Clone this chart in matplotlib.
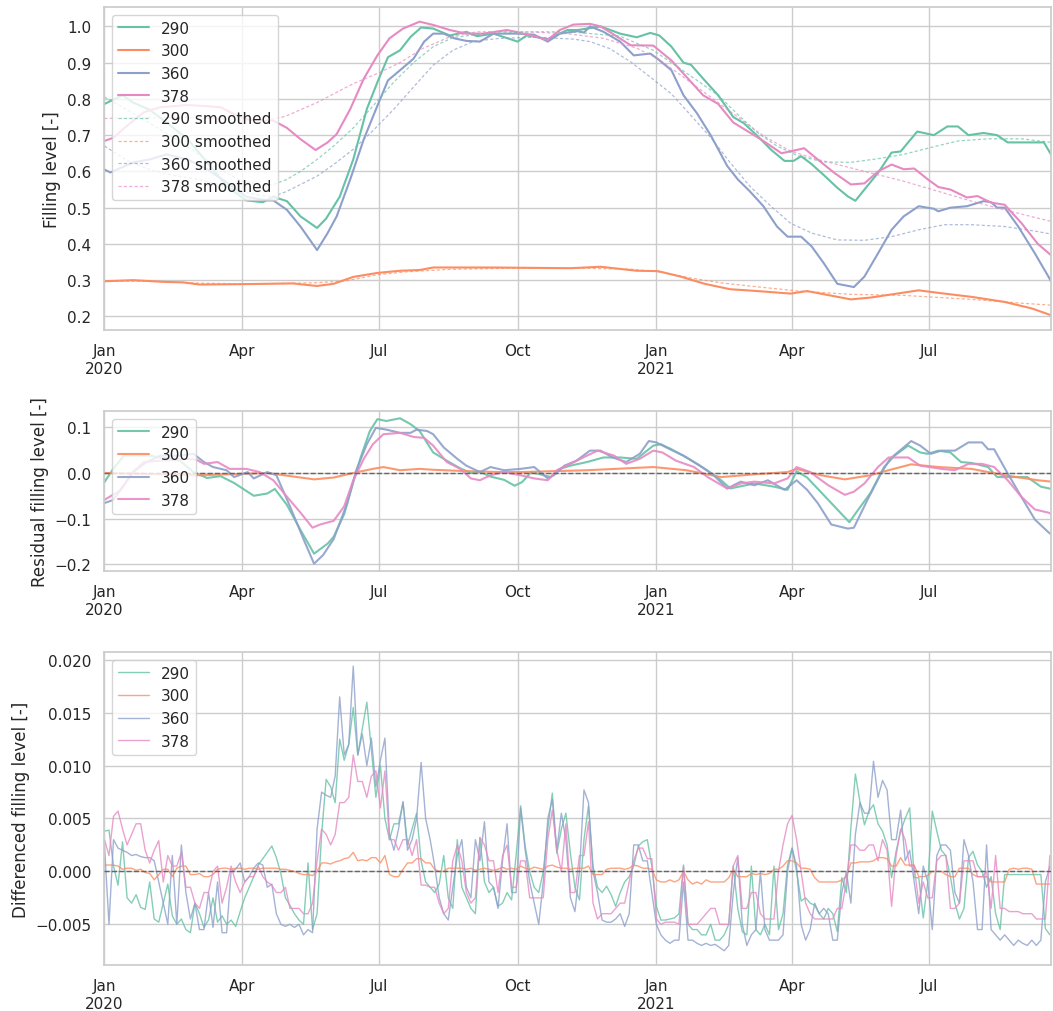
import matplotlib.pyplot as plt
import numpy as np
import pandas as pd
import seaborn as sns

sns.set_theme(style='whitegrid', palette='Set2')
plt.rcParams['font.family'] = ['DejaVu Sans']

START = pd.Timestamp('2020-01-01')
END = pd.Timestamp('2021-09-20')
SENSORS = ['290', '300', '360', '378']
COLORS = sns.color_palette('Set2', 4)

# ---- filling level, key points (days since 2020-01-01)
lvl_290_day = [0, 12, 19, 30, 41, 55, 68, 81, 94, 105, 112, 121, 130, 141, 147, 156, 165, 174, 181, 188,
               196, 203, 210, 218, 229, 240, 247, 258, 274, 280, 294, 307, 314, 329, 342, 353, 362, 368,
               376, 384, 389, 397, 407, 417, 424, 433, 442, 451, 457, 462, 469, 477, 486, 493, 498, 504,
               513, 522, 528, 539, 550, 559, 566, 573, 583, 592, 599, 623, 628]
lvl_290 = [0.786, 0.81, 0.79, 0.77, 0.735, 0.69, 0.625, 0.56, 0.52, 0.515, 0.53, 0.518, 0.476, 0.444,
           0.47, 0.53, 0.633, 0.772, 0.846, 0.915, 0.934, 0.971, 0.997, 0.994, 0.975, 0.985, 0.973, 0.98,
           0.958, 0.975, 0.965, 0.99, 0.99, 1.0, 0.98, 0.97, 0.982, 0.975, 0.944, 0.9, 0.894, 0.856, 0.81,
           0.75, 0.733, 0.698, 0.66, 0.629, 0.629, 0.642, 0.62, 0.59, 0.555, 0.531, 0.519, 0.55, 0.596,
           0.652, 0.655, 0.71, 0.70, 0.724, 0.724, 0.70, 0.706, 0.70, 0.68, 0.68, 0.645]

lvl_300_day = [0, 19, 41, 52, 63, 90, 125, 141, 152, 165, 181, 196, 209, 218, 256, 309, 329, 353, 367,
               382, 398, 415, 433, 455, 466, 495, 508, 540, 553, 575, 597, 615, 628]
lvl_300 = [0.297, 0.30, 0.295, 0.294, 0.288, 0.289, 0.291, 0.284, 0.29, 0.309, 0.32, 0.326, 0.328, 0.335,
           0.335, 0.333, 0.337, 0.326, 0.325, 0.31, 0.29, 0.275, 0.27, 0.263, 0.27, 0.247, 0.252, 0.272,
           0.265, 0.254, 0.24, 0.222, 0.203]

lvl_360_day = [0, 4, 19, 30, 41, 55, 68, 81, 94, 108, 112, 121, 130, 141, 148, 154, 163, 172, 181, 188,
               196, 205, 212, 218, 225, 232, 240, 249, 258, 274, 285, 294, 302, 314, 318, 322, 331, 342,
               351, 362, 367, 376, 384, 393, 402, 413, 420, 428, 437, 446, 453, 462, 469, 477, 486, 497,
               504, 513, 522, 530, 540, 550, 553, 561, 572, 583, 588, 592, 597, 606, 617, 626, 628]
lvl_360 = [0.605, 0.597, 0.625, 0.633, 0.647, 0.633, 0.606, 0.57, 0.53, 0.52, 0.52, 0.494, 0.448, 0.383,
           0.43, 0.476, 0.578, 0.689, 0.781, 0.851, 0.879, 0.911, 0.958, 0.98, 0.98, 0.967, 0.96, 0.958,
           0.98, 0.98, 0.977, 0.958, 0.98, 0.987, 0.983, 1.0, 0.985, 0.958, 0.92, 0.925, 0.91, 0.879,
           0.81, 0.76, 0.70, 0.615, 0.578, 0.545, 0.504, 0.448, 0.42, 0.42, 0.393, 0.347, 0.29, 0.281,
           0.31, 0.374, 0.439, 0.476, 0.504, 0.497, 0.49, 0.50, 0.504, 0.518, 0.515, 0.50, 0.50, 0.448,
           0.374, 0.31, 0.295]

lvl_378_day = [0, 6, 15, 26, 37, 55, 68, 77, 86, 94, 105, 112, 121, 130, 140, 148, 154, 163, 172, 181,
               189, 198, 209, 218, 229, 240, 251, 267, 278, 294, 302, 311, 322, 329, 338, 349, 364, 376,
               387, 397, 407, 417, 428, 437, 449, 460, 464, 473, 484, 495, 504, 513, 522, 530, 537, 546,
               553, 561, 572, 579, 588, 597, 608, 619, 628]
lvl_378 = [0.684, 0.693, 0.726, 0.763, 0.777, 0.783, 0.78, 0.777, 0.758, 0.744, 0.74, 0.74, 0.72, 0.689,
           0.659, 0.68, 0.703, 0.772, 0.856, 0.92, 0.967, 0.994, 1.013, 1.004, 0.99, 0.98, 0.98, 0.99,
           0.98, 0.963, 0.99, 1.005, 1.007, 1.0, 0.977, 0.948, 0.947, 0.906, 0.856, 0.81, 0.786, 0.735,
           0.707, 0.684, 0.65, 0.66, 0.664, 0.633, 0.596, 0.564, 0.567, 0.60, 0.619, 0.606, 0.608,
           0.578, 0.557, 0.55, 0.528, 0.532, 0.514, 0.508, 0.458, 0.40, 0.368]

# ---- smoothed filling level
sm_290_day = [0, 15, 30, 45, 60, 75, 90, 105, 112, 121, 130, 141, 152, 165, 178, 192, 205, 218, 231, 251,
              285, 309, 342, 364, 376, 393, 407, 420, 433, 446, 460, 477, 495, 513, 530, 548, 566, 586,
              608, 628]
sm_290 = [0.805, 0.77, 0.733, 0.695, 0.655, 0.61, 0.575, 0.562, 0.564, 0.578, 0.60, 0.633, 0.67, 0.72,
          0.78, 0.847, 0.90, 0.944, 0.969, 0.98, 0.985, 0.985, 0.973, 0.934, 0.90, 0.851, 0.81, 0.757,
          0.707, 0.67, 0.643, 0.626, 0.625, 0.635, 0.647, 0.666, 0.684, 0.69, 0.69, 0.68]

sm_300_day = [0, 30, 60, 90, 120, 141, 160, 181, 200, 230, 270, 320, 350, 370, 390, 410, 430, 460, 495,
              530, 575, 610, 628]
sm_300 = [0.297, 0.297, 0.292, 0.29, 0.291, 0.293, 0.298, 0.315, 0.323, 0.33, 0.333, 0.333, 0.33, 0.322,
          0.305, 0.292, 0.283, 0.27, 0.261, 0.258, 0.247, 0.236, 0.231]

sm_360_day = [0, 15, 30, 45, 60, 75, 90, 105, 112, 121, 130, 141, 152, 165, 178, 192, 205, 218, 231, 245,
              262, 285, 311, 322, 335, 349, 362, 376, 389, 402, 415, 428, 442, 455, 469, 486, 504, 522,
              540, 557, 575, 597, 619, 628]
sm_360 = [0.67, 0.63, 0.605, 0.59, 0.58, 0.565, 0.545, 0.533, 0.531, 0.545, 0.564, 0.587, 0.619, 0.661,
          0.712, 0.772, 0.833, 0.893, 0.934, 0.959, 0.967, 0.97, 0.965, 0.958, 0.939, 0.902, 0.86, 0.814,
          0.754, 0.694, 0.624, 0.559, 0.504, 0.457, 0.43, 0.411, 0.41, 0.42, 0.439, 0.453, 0.453, 0.448,
          0.434, 0.427]

sm_378_day = [0, 30, 60, 90, 107, 120, 141, 165, 181, 196, 211, 229, 247, 274, 307, 331, 353, 367, 384,
              402, 420, 437, 455, 473, 490, 508, 530, 553, 575, 597, 619, 628]
sm_378 = [0.746, 0.748, 0.748, 0.742, 0.74, 0.752, 0.79, 0.842, 0.87, 0.90, 0.939, 0.971, 0.985, 0.986,
          0.98, 0.967, 0.94, 0.911, 0.86, 0.805, 0.75, 0.698, 0.656, 0.633, 0.615, 0.596, 0.573, 0.545,
          0.518, 0.494, 0.471, 0.462]

# ---- residual filling level
res_290_day = [0, 6, 13, 30, 50, 59, 68, 77, 86, 99, 108, 113, 121, 130, 139, 148, 152, 159, 165, 170,
               176, 181, 187, 196, 203, 209, 218, 227, 236, 243, 249, 256, 265, 272, 277, 283, 289, 296,
               302, 309, 320, 331, 342, 353, 364, 369, 376, 386, 400, 409, 415, 431, 444, 453, 459, 466,
               480, 488, 494, 500, 508, 517, 524, 533, 541, 546, 553, 561, 568, 575, 586, 592, 612, 621, 628]
res_290 = [-0.02, 0.01, 0.038, 0.038, 0.027, 0.002, -0.011, -0.007, -0.022, -0.05, -0.045, -0.035, -0.07,
           -0.125, -0.177, -0.155, -0.14, -0.09, -0.02, 0.035, 0.092, 0.118, 0.114, 0.12, 0.107, 0.092,
           0.045, 0.027, 0.01, 0.0, 0.003, -0.008, -0.015, -0.028, -0.02, 0.002, -0.003, -0.009, 0.009,
           0.016, 0.024, 0.034, 0.034, 0.031, 0.06, 0.063, 0.052, 0.034, 0.005, -0.016, -0.034, -0.023,
           -0.03, -0.037, 0.004, -0.01, -0.059, -0.087, -0.108, -0.08, -0.044, 0.013, 0.038, 0.06, 0.045,
           0.042, 0.049, 0.045, 0.024, 0.022, 0.013, -0.009, -0.009, -0.03, -0.035]

res_300_day = [0, 64, 108, 139, 152, 165, 178, 185, 196, 209, 218, 240, 263, 276, 320, 364, 386, 409,
               431, 453, 459, 475, 491, 508, 520, 535, 553, 575, 597, 619, 628]
res_300 = [0.0, -0.005, 0.0, -0.014, -0.01, 0.0, 0.009, 0.013, 0.006, 0.009, 0.007, 0.004, 0.002, 0.002,
           0.006, 0.013, 0.006, -0.009, -0.003, 0.002, 0.009, -0.005, -0.014, -0.005, 0.006, 0.019, 0.013,
           0.009, -0.005, -0.016, -0.019]

res_360_day = [0, 6, 12, 19, 28, 37, 50, 59, 66, 72, 81, 86, 95, 99, 108, 114, 123, 132, 139, 145, 152,
               161, 167, 174, 180, 187, 196, 203, 207, 214, 218, 225, 234, 240, 249, 256, 265, 276, 285,
               294, 298, 305, 313, 322, 329, 337, 346, 355, 361, 366, 375, 384, 395, 404, 413, 422, 431,
               440, 451, 459, 466, 473, 482, 493, 497, 506, 515, 521, 535, 541, 548, 555, 564, 573, 582,
               586, 590, 599, 608, 617, 626, 628]
res_360 = [-0.066, -0.059, -0.03, 0.002, 0.024, 0.038, 0.038, 0.042, 0.024, 0.013, 0.006, -0.009, 0.002,
           -0.012, 0.002, -0.005, -0.073, -0.145, -0.199, -0.18, -0.145, -0.066, 0.006, 0.063, 0.099,
           0.095, 0.088, 0.088, 0.095, 0.092, 0.085, 0.056, 0.031, 0.016, 0.002, 0.013, 0.006, 0.009,
           0.013, -0.012, -0.005, 0.016, 0.027, 0.049, 0.049, 0.034, 0.024, 0.042, 0.07, 0.067, 0.052,
           0.038, 0.016, -0.005, -0.034, -0.019, -0.027, -0.016, -0.037, -0.016, -0.037, -0.066, -0.113,
           -0.122, -0.12, -0.059, -0.001, 0.031, 0.07, 0.06, 0.042, 0.049, 0.049, 0.067, 0.067, 0.052,
           0.052, -0.001, -0.052, -0.102, -0.13, -0.135]

res_378_day = [0, 11, 19, 26, 37, 55, 61, 66, 75, 83, 94, 103, 112, 121, 130, 138, 143, 152, 159, 165,
               172, 178, 185, 196, 205, 212, 218, 227, 236, 243, 249, 256, 265, 276, 285, 294, 300, 309,
               320, 327, 338, 346, 355, 364, 370, 379, 391, 400, 413, 422, 431, 444, 453, 459, 468, 480,
               491, 497, 504, 513, 520, 533, 541, 555, 564, 573, 582, 590, 599, 608, 617, 626, 628]
res_378 = [-0.059, -0.037, 0.002, 0.024, 0.027, 0.031, 0.029, 0.02, 0.024, 0.009, 0.009, 0.002, -0.016,
           -0.052, -0.087, -0.12, -0.113, -0.105, -0.073, -0.016, 0.031, 0.063, 0.085, 0.088, 0.079,
           0.077, 0.06, 0.024, 0.009, -0.012, -0.016, -0.005, 0.002, -0.005, -0.012, -0.016, 0.006, 0.02,
           0.038, 0.049, 0.038, 0.02, 0.031, 0.049, 0.045, 0.027, 0.013, -0.009, -0.034, -0.023, -0.019,
           -0.023, -0.012, 0.013, 0.002, -0.027, -0.048, -0.041, -0.023, 0.013, 0.034, 0.034, 0.016,
           0.009, 0.006, 0.02, 0.02, 0.013, -0.016, -0.052, -0.08, -0.087, -0.09]

# ---- differenced filling level, every 3 days, in 1e-3
diff_290 = [3.8, 3.9, 0.5, -1.3, 2.8, -2.5, -3.0, -2.2, -3.4, -3.6,
            -1.0, -4.5, -4.8, -3.0, -1.2, -4.2, -5.0, -4.5, -5.5, -5.8,
            -3.0, -4.0, -5.3, -4.6, -2.5, -4.8, -4.2, -5.0, -4.6, -5.2,
            -3.8, -2.5, -1.5, -0.5, 0.6, 1.2, 1.8, 2.4, 1.3, -0.2,
            -2.5, -3.2, -4.0, -4.6, -5.0, 0.8, -5.5, -4.0, 3.5, 8.7,
            8.0, 6.5, 12.5, 10.5, 12.0, 15.5, 11.0, 13.5, 16.0, 11.5,
            7.0, 10.0, 5.0, 3.0, 4.5, 4.5, 6.5, 2.5, 4.0, 5.5,
            1.0, -1.0, -1.5, -2.0, -1.2, 1.5, -2.5, -3.5, 3.0, -1.5,
            -2.5, -3.5, -4.0, 3.2, -1.0, -2.0, -1.5, -3.3, -3.0, -2.0,
            -2.7, 1.5, 6.2, 2.4, 0.0, -1.5, -2.0, 0.0, 4.0, 7.4,
            1.7, 4.0, 5.5, 1.7, -1.5, -2.7, 3.0, 6.2, 0.5, -1.5,
            -2.0, -1.4, -2.2, -3.3, -2.0, -1.0, -0.5, 0.5, 2.4, 2.8,
            3.0, 0.5, -3.3, -4.6, -4.6, -4.5, -4.4, -4.0, 0.6, -5.0,
            -5.5, -5.5, -6.0, -6.0, -5.0, -6.5, -6.5, -6.0, -5.0, 0.5,
            -3.5, -5.7, -6.0, 0.5, -5.5, -6.0, -5.0, -6.0, 0.5, -5.5,
            -4.0, 0.6, 2.2, 0.0, -2.8, -2.5, -3.0, -3.2, -4.0, -4.5,
            -3.5, -4.0, -5.7, -0.6, -2.0, 4.1, 9.2, 6.6, 4.4, 5.7,
            6.3, 4.5, 3.8, 2.5, -0.6, 1.9, 3.8, 5.0, 6.0, -0.6,
            -0.6, -4.4, -1.0, 5.7, 3.8, 2.0, 1.5, -0.5, -3.0, -4.5,
            -3.5, 1.3, 1.9, 0.6, 0.0, -1.5, -0.5, -4.0, -5.5, -0.3,
            -0.3, -0.3, -0.3, -0.3, -0.3, -0.3, -0.3, -0.3, -5.4, -6.0]
diff_300 = [0.6, 0.6, 0.6, 0.5, 0.2, 0.3, 0.3, 0.1, 0.2, -0.1,
            -0.2, -0.8, -0.3, 0.2, 0.2, -0.5, 0.3, 0.5, 0.5, -0.3,
            -0.3, -0.2, -0.5, -0.5, -0.3, 0.2, 0.3, 0.3, 0.2, 0.3,
            0.3, 0.2, 0.3, 0.3, 0.2, 0.3, 0.3, 0.3, 0.3, 0.2,
            0.2, 0.1, 0.0, -0.2, -0.3, -0.3, -0.4, 0.0, 0.8, 0.8,
            0.7, 0.9, 1.0, 1.2, 1.3, 1.8, 1.0, 1.1, 1.0, 1.3,
            1.3, 0.8, 1.5, -0.3, -0.5, -0.5, 0.2, 0.8, 0.8, 1.2,
            1.2, 0.8, 0.8, 0.2, 0.0, 0.0, 0.3, 0.3, 0.3, 0.3,
            0.2, 0.3, 0.1, 0.2, 0.3, 0.2, 0.1, 0.2, 0.4, 0.2,
            0.3, 0.2, 0.5, 0.3, 0.2, 0.4, 0.3, 0.2, 0.5, 0.6,
            0.4, 0.3, 0.3, 0.2, 0.3, 0.3, 0.3, 0.5, -0.3, -0.3,
            -0.3, 0.2, 0.3, 0.3, 0.3, 0.2, 0.3, 0.6, 0.5, 0.3,
            0.3, 0.2, -0.8, -1.0, -1.0, -0.8, -1.0, -0.8, 0.0, -0.8,
            -1.2, -1.0, -1.2, -0.8, -1.0, -1.0, -1.0, -1.0, -0.6, 0.2,
            -0.5, -0.5, -0.5, -0.2, -0.3, -0.2, -0.3, -0.2, 0.2, 0.2,
            0.5, 1.0, 1.0, 0.8, 0.3, 0.3, 0.2, -0.6, -1.0, -1.0,
            -1.0, -1.0, -1.0, -0.8, -0.5, 0.8, 0.8, 0.9, 0.9, 0.9,
            1.0, 1.3, 1.3, 1.2, 0.5, 0.5, 1.3, 0.6, 0.6, 0.6,
            -0.5, -0.5, -0.4, 0.0, 0.0, 0.0, -0.3, -0.5, -0.5, 0.3,
            0.3, 0.3, -0.3, -0.5, -0.5, -0.5, -1.0, -1.0, -1.0, -1.0,
            0.2, 0.3, 0.2, 0.3, 0.3, 0.2, -1.2, -1.2, -1.2, -1.2]
diff_360 = [2.5, -5.0, 3.0, 2.2, 2.0, 1.8, 1.5, 1.6, 1.4, 1.3,
            1.3, 1.0, -1.0, -3.0, -5.0, 1.5, -5.0, 2.5, -2.0, -4.5,
            -3.0, -5.5, -5.5, -2.0, -5.3, -1.0, -5.8, -5.8, 0.0, 0.2,
            0.8, -1.0, -0.5, 0.3, 0.8, 0.6, -1.5, -1.2, -4.0, -5.0,
            -5.2, -5.0, -5.3, -5.0, -6.0, -5.5, -5.8, 4.0, 7.5, 7.2,
            7.0, 9.0, 16.5, 11.0, 12.0, 19.4, 11.0, 13.0, 10.0, 12.6,
            8.0, 10.5, 12.6, 3.5, 2.0, 4.0, 6.6, 2.0, 3.0, 5.0,
            10.3, 5.0, 3.0, 0.5, -2.5, -4.0, -4.6, -1.5, 1.5, 3.0,
            -1.5, -2.5, 3.0, 1.0, 4.7, -1.0, -1.5, -3.5, 1.0, 4.5,
            -2.0, -2.0, 6.0, 2.0, -1.0, -3.0, -5.0, -1.0, 5.0, 6.8,
            2.0, 5.5, 3.0, -2.5, -3.8, 0.0, 7.7, 6.5, 0.0, -2.0,
            -4.6, -4.8, -4.8, -4.5, -4.0, -5.2, -4.0, 2.5, 2.5, 1.0,
            1.0, -2.0, -5.0, -6.0, -6.5, -6.8, -6.5, -6.5, -1.0, -6.5,
            -6.5, -6.8, -7.0, -6.8, -7.0, -6.9, -7.2, -7.5, -7.0, -2.0,
            1.3, -5.0, -7.0, -6.0, -5.5, 0.0, -5.5, -6.5, -6.5, -6.5,
            -6.0, 0.0, 2.2, 0.5, -5.0, -6.5, -5.5, -3.0, -4.0, -3.5,
            -4.0, -6.5, -6.5, -2.0, 0.0, -3.0, 3.5, 6.5, 5.5, 5.5,
            10.4, 7.0, 8.6, 7.7, 3.0, 3.0, 5.8, 1.0, 2.0, -1.0,
            -4.0, 0.5, -1.0, -5.5, 1.5, 2.5, 2.5, 2.0, -2.0, -3.0,
            3.0, 1.5, -1.0, -5.5, -5.5, 2.5, -5.5, -6.0, -6.5, -6.0,
            -6.5, -7.0, -6.5, -6.8, -7.0, -6.5, -7.0, -6.5, -1.0, 0.5]
diff_378 = [3.0, 1.5, 5.2, 5.7, 4.0, 2.5, 3.5, 4.5, 4.5, 2.0,
            0.8, 2.0, 2.9, -1.0, 1.5, 0.5, 0.5, 1.8, -1.5, -1.5,
            -3.0, -3.5, -2.0, -2.0, 0.0, 0.5, -3.0, -1.5, 0.5, -1.0,
            -2.0, -1.0, -0.5, -0.5, 0.5, -0.5, -1.0, -1.3, -2.0, -2.0,
            -1.5, -3.5, -3.5, -3.5, -4.0, -4.0, -3.0, 1.0, 4.0, 3.5,
            2.5, 3.5, 6.5, 6.5, 7.0, 11.0, 8.5, 8.5, 7.0, 9.0,
            9.5, 6.0, 9.5, 3.0, 3.0, 2.0, 3.0, 3.0, 1.5, 3.0,
            -1.3, -1.3, -1.5, -1.5, -3.0, -4.0, -3.5, 1.0, 2.5, 1.0,
            -2.0, -3.0, -2.5, 3.2, 2.5, 1.0, 1.0, -2.0, 1.5, 2.5,
            -1.5, -1.5, 1.0, 1.0, -2.5, -2.5, -2.5, -2.5, 3.0, 5.8,
            2.0, 0.0, 4.5, -2.0, -2.0, 1.5, 1.5, 4.7, -3.0, -4.5,
            -4.0, -4.0, -4.0, -3.5, -3.0, -3.0, -1.0, 1.0, 2.2, 2.2,
            1.2, 1.2, -4.5, -5.0, -4.8, -4.8, -4.8, -5.0, 0.5, -5.0,
            -5.0, -5.0, -4.5, -4.0, -3.5, -3.5, -5.0, -5.0, -5.0, 0.5,
            1.5, -3.5, -3.5, -2.0, -2.0, -4.0, -4.5, -4.5, -4.5, 0.0,
            2.5, 4.5, 5.3, 3.0, 0.0, -3.0, -4.0, -4.5, -4.5, -4.5,
            -4.5, -4.5, -3.5, -3.5, -1.0, 2.5, 2.5, 2.0, 2.0, 2.5,
            2.5, 1.0, 3.0, 2.0, -3.3, 1.5, 4.0, 3.0, 0.5, 0.5,
            -3.0, -1.0, -2.5, -2.5, 1.0, 1.5, 1.5, -3.5, -3.5, -3.0,
            1.0, 1.0, 1.0, -0.5, -0.5, 0.0, -3.5, 1.5, -3.5, -3.5,
            -3.8, -3.8, -3.8, -4.0, -4.0, -4.0, -4.5, -4.5, -4.5, 1.5]

TICK_DATES = pd.to_datetime(['2020-01-01', '2020-04-01', '2020-07-01', '2020-10-01',
                             '2021-01-01', '2021-04-01', '2021-07-01'])
TICK_LABELS = ['Jan\n2020', 'Apr', 'Jul', 'Oct', 'Jan\n2021', 'Apr', 'Jul']


def to_dates(days):
    return START + pd.to_timedelta(days, unit='D')


def style_time_axis(ax):
    ax.set_xlim(START, END)
    ax.set_xticks(TICK_DATES)
    ax.set_xticklabels(TICK_LABELS)
    ax.set_xlabel('')


fig = plt.figure(figsize=(10.53, 10.12), dpi=100)
ax1 = fig.add_axes([0.0992, 0.6729, 0.8993, 0.3192])
ax2 = fig.add_axes([0.0992, 0.4348, 0.8993, 0.1581])
ax3 = fig.add_axes([0.0992, 0.0455, 0.8993, 0.3093])

# panel 1: filling level with smoothed curves
levels = [(lvl_290_day, lvl_290), (lvl_300_day, lvl_300), (lvl_360_day, lvl_360), (lvl_378_day, lvl_378)]
smooth = [(sm_290_day, sm_290), (sm_300_day, sm_300), (sm_360_day, sm_360), (sm_378_day, sm_378)]
for name, color, (d, v) in zip(SENSORS, COLORS, levels):
    ax1.plot(to_dates(d), v, color=color, lw=1.5, label=name)
for name, color, (d, v) in zip(SENSORS, COLORS, smooth):
    ax1.plot(to_dates(d), v, color=color, lw=0.9, ls=(0, (2.5, 1.8)), alpha=0.7,
             label=f'{name} smoothed')
ax1.set_ylabel('Filling level [-]')
ax1.legend(loc='upper left')
style_time_axis(ax1)

# panel 2: residuals
resid = [(res_290_day, res_290), (res_300_day, res_300), (res_360_day, res_360), (res_378_day, res_378)]
for name, color, (d, v) in zip(SENSORS, COLORS, resid):
    ax2.plot(to_dates(d), v, color=color, lw=1.5, alpha=0.9, label=name)
ax2.axhline(0, color='#666666', lw=1, ls='--', zorder=5)
ax2.set_ylabel('Residual filling level [-]')
ax2.legend(loc='upper left')
style_time_axis(ax2)

# panel 3: first differences
diff_dates = pd.date_range(START, periods=len(diff_290), freq='3D')
for name, color, v in zip(SENSORS, COLORS, [diff_290, diff_300, diff_360, diff_378]):
    ax3.plot(diff_dates, np.array(v) * 1e-3, color=color, lw=1, alpha=0.8, label=name)
ax3.axhline(0, color='#666666', lw=1, ls='--', zorder=5)
ax3.set_ylabel('Differenced filling level [-]')
ax3.legend(loc='upper left')
style_time_axis(ax3)

fig.savefig('out.png', dpi=100)
plt.close(fig)
